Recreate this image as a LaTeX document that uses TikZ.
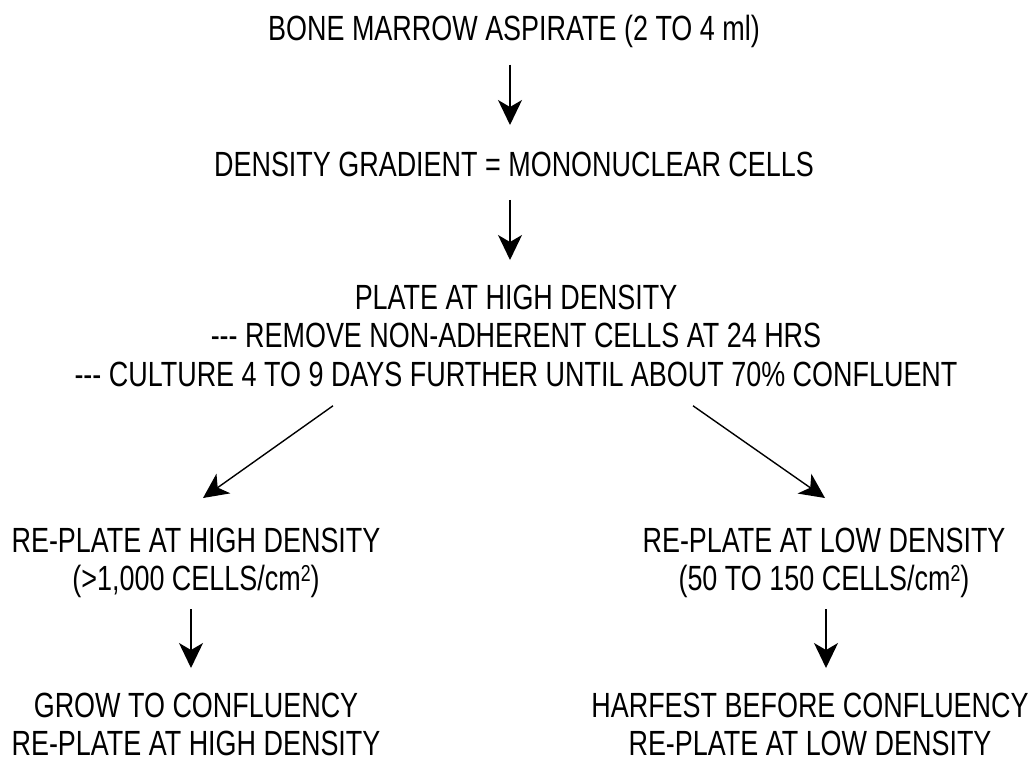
\documentclass[tikz,border=0pt]{standalone}
\usepackage{fontspec}
\setmainfont{Liberation Sans}[FakeStretch=0.77]
\usepackage{tikz}
\usetikzlibrary{arrows.meta,calc}

\newcommand{\sqcm}{cm\raisebox{9pt}{\fontsize{23}{23}\selectfont 2}}

\begin{document}
\begin{tikzpicture}[x=1pt, y=-1pt,
  stage/.style={font=\fontsize{35}{38.5}\selectfont, align=center, inner sep=0pt, outer sep=0pt, anchor=north},
  flow/.style={line width=1.4pt, -{Stealth[length=25pt, width=24pt, inset=7pt]}}]
\useasboundingbox (0,0) rectangle (1029,764);
\node[stage] (aspirate) at (514,15) {BONE MARROW ASPIRATE (2 TO 4 ml)};
\node[stage] (gradient) at (514,152) {DENSITY GRADIENT = MONONUCLEAR CELLS};
\node[stage] (plate) at (516,285) {PLATE AT HIGH DENSITY\\
  {-}{-}{-} REMOVE NON-ADHERENT CELLS AT 24 HRS\\
  {-}{-}{-} CULTURE 4 TO 9 DAYS FURTHER UNTIL ABOUT 70\% CONFLUENT};
\node[stage] (highplate) at (196,528) {RE-PLATE AT HIGH DENSITY\\ (>1,000 CELLS/\sqcm)};
\node[stage] (lowplate) at (824,528) {RE-PLATE AT LOW DENSITY\\ (50 TO 150 CELLS/\sqcm)};
\node[stage] (grow) at (196,693) {GROW TO CONFLUENCY\\ RE-PLATE AT HIGH DENSITY};
\node[stage] (harvest) at (810,693) {HARFEST BEFORE CONFLUENCY\\ RE-PLATE AT LOW DENSITY};
\draw[flow] ($(aspirate.south)+(-4,17)$) -- ($(gradient.north)+(-4,-27)$);
\draw[flow] ($(gradient.south)+(-4,23)$) -- ($(plate.north)+(-6,-25)$);
\draw[flow] ($(plate.south)+(-183,19)$) -- ($(highplate.north)+(7,-30)$);
\draw[flow] ($(plate.south)+(177,19)$) -- ($(lowplate.north)+(1,-30)$);
\draw[flow] ($(highplate.south)+(-5,11)$) -- ($(grow.north)+(-5,-25)$);
\draw[flow] ($(lowplate.south)+(2,11)$) -- ($(harvest.north)+(16,-25)$);
\end{tikzpicture}
\end{document}
